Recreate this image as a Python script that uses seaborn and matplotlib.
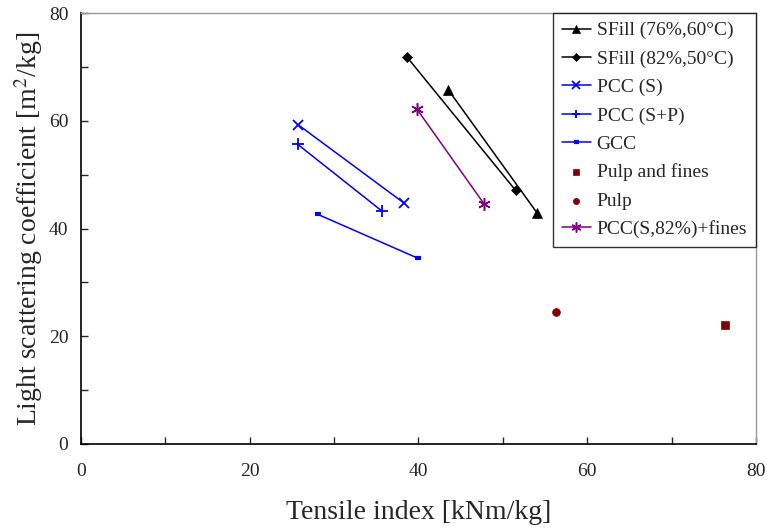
import matplotlib
matplotlib.use("Agg")
import matplotlib.pyplot as plt
import seaborn as sns
import pandas as pd

# values
sfill76_x = [43.5, 54.1]
sfill76_y = [65.8, 42.8]
sfill82_x = [38.6, 51.5]
sfill82_y = [71.9, 47.1]
pcc_s_x = [25.7, 38.3]
pcc_s_y = [59.3, 44.7]
pcc_sp_x = [25.7, 35.7]
pcc_sp_y = [55.6, 43.2]
gcc_x = [28.1, 39.9]
gcc_y = [42.6, 34.5]
pulp_fines_x = [76.3]
pulp_fines_y = [22.1]
pulp_x = [56.3]
pulp_y = [24.5]
pcc82_x = [39.8, 47.8]
pcc82_y = [62.2, 44.5]

sns.set_style("white")
plt.rcParams["font.family"] = ["Liberation Serif", "DejaVu Serif"]
plt.rcParams["mathtext.fontset"] = "stix"

fig = plt.figure(figsize=(7.67, 5.29), dpi=100)
ax = fig.add_axes([0.1056, 0.1607, 0.88, 0.8147])

lines = [
    ("SFill (76%,60\u00b0C)", sfill76_x, sfill76_y, "black", "^", 7.5, 0.5),
    ("SFill (82%,50\u00b0C)", sfill82_x, sfill82_y, "black", "D", 5, 0.5),
    ("PCC (S)", pcc_s_x, pcc_s_y, "#0000ff", "x", 7, 1.3),
    ("PCC (S+P)", pcc_sp_x, pcc_sp_y, "#0000ff", "+", 8, 1.3),
    ("GCC", gcc_x, gcc_y, "#0000ff", "_", 4.5, 3),
]
for lab, xs, ys, col, mk, ms, mew in lines:
    df = pd.DataFrame({"x": xs, "y": ys})
    sns.lineplot(data=df, x="x", y="y", color=col, marker=mk, markersize=ms,
                 markeredgecolor=col, markeredgewidth=mew,
                 linewidth=1.1, label=lab, ax=ax)

sns.scatterplot(x=pulp_fines_x, y=pulp_fines_y, color="#800000", marker="s", s=36,
                edgecolor="#800000", label="Pulp and fines", ax=ax)
sns.scatterplot(x=pulp_x, y=pulp_y, color="#800000", marker="o", s=32,
                edgecolor="#800000", label="Pulp", ax=ax)
df = pd.DataFrame({"x": pcc82_x, "y": pcc82_y})
sns.lineplot(data=df, x="x", y="y", color="#800080", marker=(6, 2, 0), markersize=9,
             markeredgecolor="#800080", markeredgewidth=1.1, linewidth=1.1,
             label="PCC(S,82%)+fines", ax=ax)

ax.set_xlim(0, 80)
ax.set_ylim(0, 80)
ax.set_xticks([0, 20, 40, 60, 80])
ax.set_yticks([0, 20, 40, 60, 80])
ax.set_xticks([10, 30, 50, 70], minor=True)
ax.set_yticks([10, 30, 50, 70], minor=True)
ax.tick_params(which="both", direction="in", length=5, width=1, labelsize=14,
               bottom=True, left=True, top=False, right=False)
ax.tick_params(axis="x", pad=14)
ax.tick_params(axis="y", pad=9)
ax.set_xlabel("Tensile index [kNm/kg]", fontsize=20, labelpad=14)
ax.set_ylabel("Light scattering coefficient [m$^{2}$/kg]", fontsize=20, labelpad=3)

for side in ["left", "bottom"]:
    ax.spines[side].set_color("black")
    ax.spines[side].set_linewidth(1.2)
for side in ["top", "right"]:
    ax.spines[side].set_color("#999999")
    ax.spines[side].set_linewidth(1.0)

leg = ax.legend(loc="upper right", fontsize=14, frameon=True, fancybox=False,
                edgecolor="black", borderaxespad=0.0, handlelength=1.5,
                handletextpad=0.3, labelspacing=0.55, borderpad=0.45,
                markerscale=0.8)
leg.get_frame().set_linewidth(1.0)

fig.savefig("out.png", dpi=100)
